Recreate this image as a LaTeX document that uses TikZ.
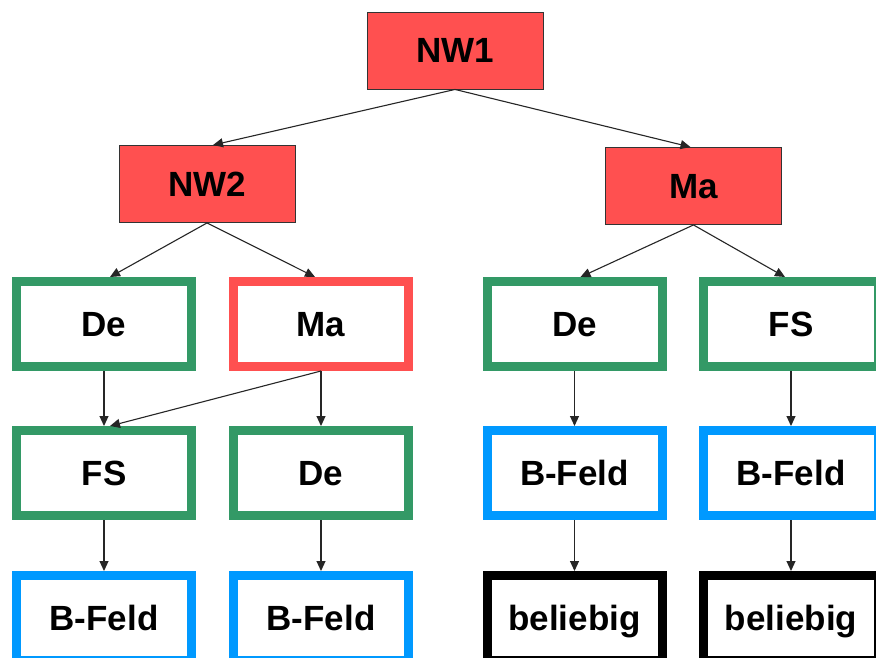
\documentclass[tikz,border=0pt]{standalone}
\usepackage{fontspec}
\setmainfont{Liberation Sans}
\usetikzlibrary{arrows.meta}
\definecolor{rd}{HTML}{FF5050}
\definecolor{gr}{HTML}{339966}
\definecolor{bl}{HTML}{0099FF}
\begin{document}
\begin{tikzpicture}[x=1pt,y=-1pt,
  lbl/.style={font=\fontsize{35}{40}\selectfont\bfseries, text height=25pt, text depth=0pt, inner sep=0pt},
  topbox/.style={lbl, draw=black!80, line width=0.9pt, fill=rd, minimum width=176pt, minimum height=77pt},
  box/.style={lbl, draw=#1, line width=9pt, fill=white, minimum width=175pt, minimum height=85pt},
  arr/.style={-{Triangle[length=10pt,width=9pt]}, line width=1.1pt, draw=black!85}]
\useasboundingbox (0,0) rectangle (876,658);
\clip (0,0) rectangle (876,658);
\fill[white] (0,0) rectangle (876,658);
% top levels
\node[topbox] (nw1) at (455,50.5) {NW1};
\node[topbox] (nw2) at (207,184) {NW2};
\node[topbox] (ma)  at (693.5,186) {Ma};
% row 3
\node[box=gr] (de1) at (104,324) {De};
\node[box=rd] (ma2) at (321,324) {Ma};
\node[box=gr] (de3) at (574.5,324) {De};
\node[box=gr] (fs4) at (791,324) {FS};
% row 4
\node[box=gr] (fs1) at (104,473) {FS};
\node[box=gr] (de2) at (321,473) {De};
\node[box=bl] (bf3) at (574.5,473) {B-Feld};
\node[box=bl] (bf4) at (791,473) {B-Feld};
% row 5
\node[box=bl] (bf1) at (104,618) {B-Feld};
\node[box=bl] (bf2) at (321,618) {B-Feld};
\node[box=black] (be3) at (574.5,618) {beliebig};
\node[box=black] (be4) at (791,618) {beliebig};
% connectors
\draw[arr] (nw1.south) -- ([xshift=6pt]nw2.north);
\draw[arr] (nw1.south) -- ([xshift=-3pt]ma.north);
\draw[arr] (nw2.south) -- ([xshift=6pt]de1.north);
\draw[arr] (nw2.south) -- ([xshift=-6pt]ma2.north);
\draw[arr] (ma.south) -- ([xshift=6pt]de3.north);
\draw[arr] (ma.south) -- ([xshift=-6pt]fs4.north);
\draw[arr] (de1.south) -- (fs1.north);
\draw[arr] (ma2.south) -- (de2.north);
\draw[arr] (ma2.south) -- ([xshift=6pt]fs1.north);
\draw[arr] (de3.south) -- (bf3.north);
\draw[arr] (fs4.south) -- (bf4.north);
\draw[arr] (fs1.south) -- (bf1.north);
\draw[arr] (de2.south) -- (bf2.north);
\draw[arr] (bf3.south) -- (be3.north);
\draw[arr] (bf4.south) -- (be4.north);
\end{tikzpicture}
\end{document}
